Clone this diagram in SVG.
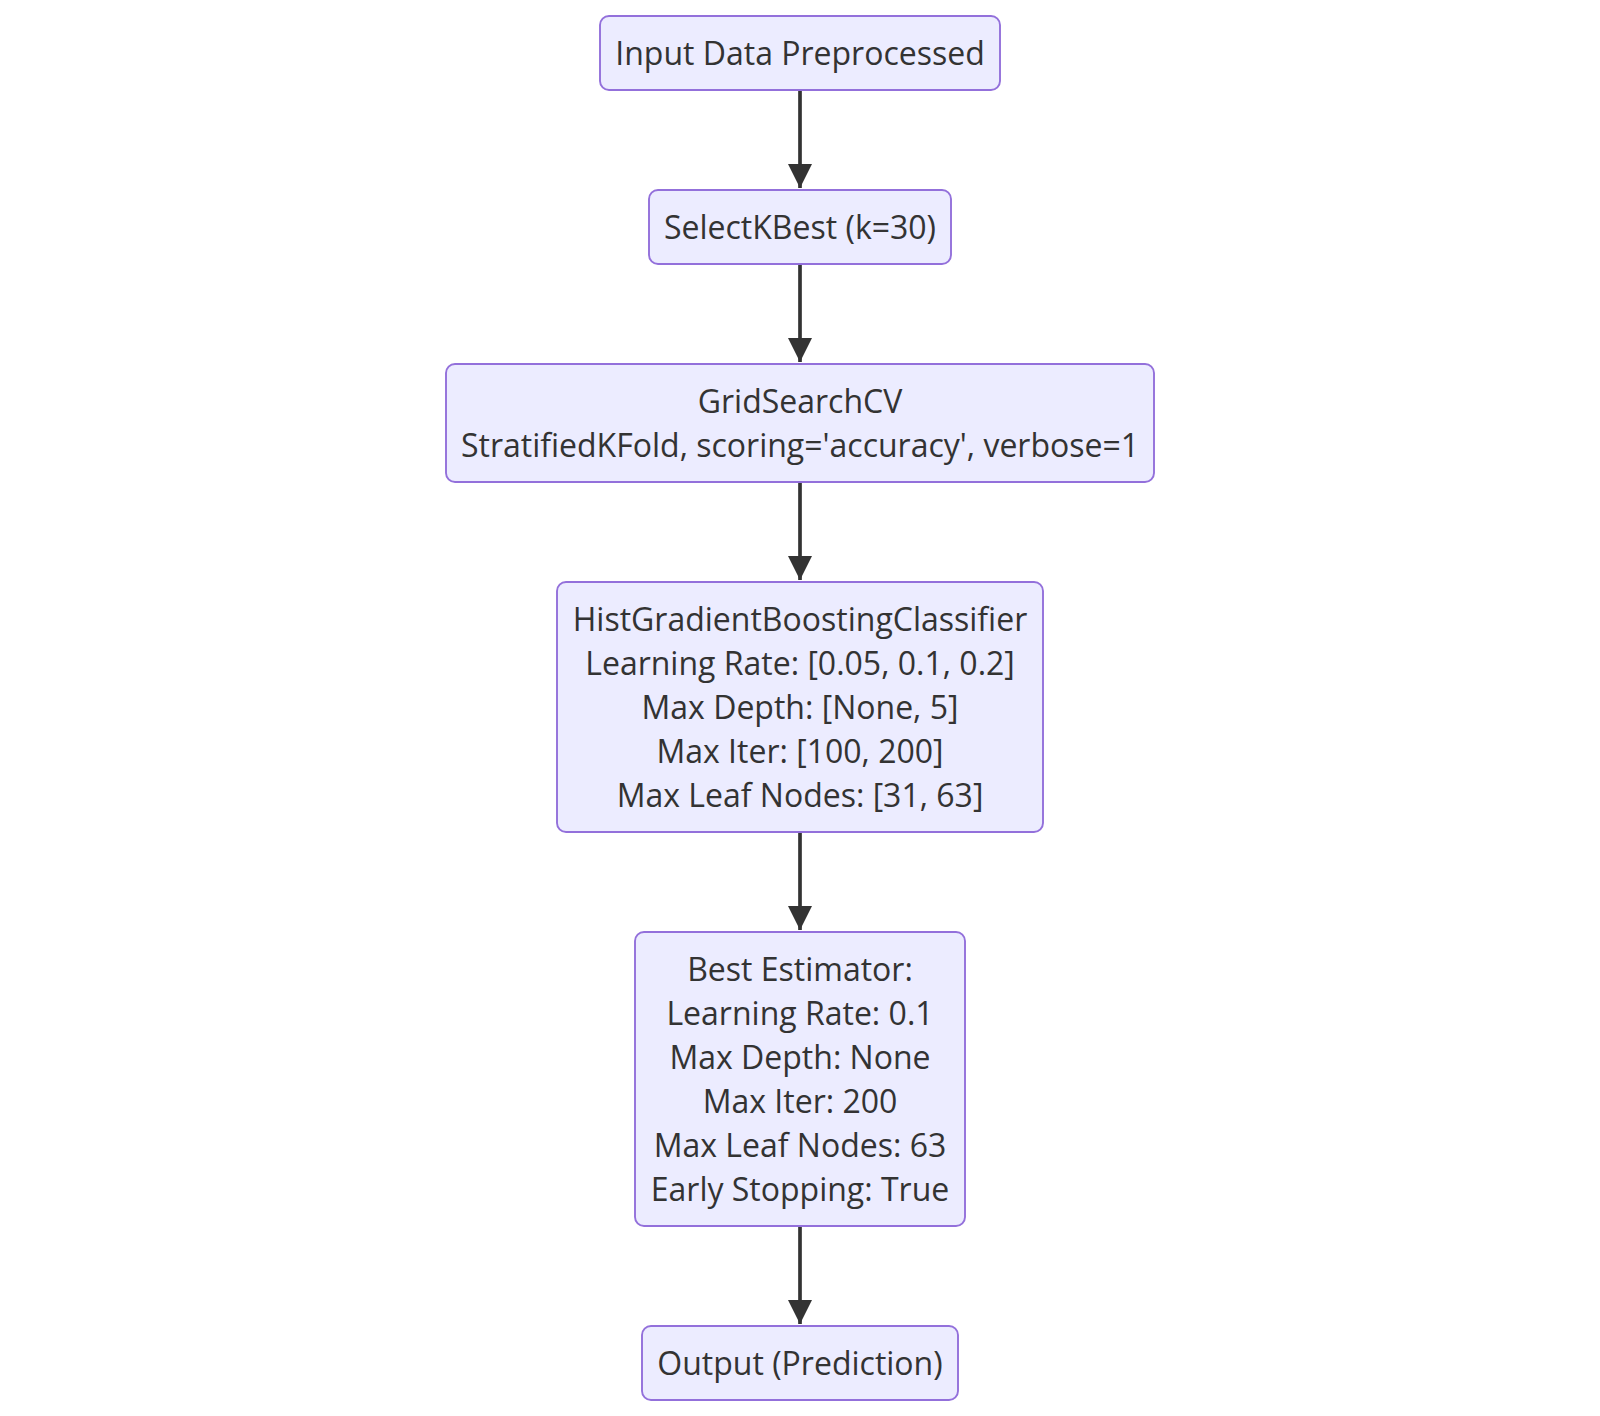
<svg xmlns="http://www.w3.org/2000/svg" width="1600" height="1416" viewBox="0 0 1600 1416">
<defs>
<style>
.node rect{fill:#ECECFF;stroke:#9370DB;stroke-width:1.9}
.node text{font-family:"Open Sans","Noto Sans",sans-serif;font-size:32px;fill:#333;text-anchor:middle}
.edge{stroke:#333;stroke-width:3.7;fill:none}
</style>
<marker id="arrow" viewBox="0 0 10 10" refX="10" refY="5" markerUnits="userSpaceOnUse" markerWidth="24" markerHeight="24" orient="auto">
<path d="M0,0 L10,5 L0,10 Z" fill="#333"/>
</marker>
</defs>
<rect width="1600" height="1416" fill="#fff"/>
<g id="connectors">
<path class="edge" d="M800,90 L800,188" marker-end="url(#arrow)"/>
<path class="edge" d="M800,264 L800,362" marker-end="url(#arrow)"/>
<path class="edge" d="M800,482 L800,580" marker-end="url(#arrow)"/>
<path class="edge" d="M800,832 L800,930" marker-end="url(#arrow)"/>
<path class="edge" d="M800,1226 L800,1324" marker-end="url(#arrow)"/>
</g>
<g id="input" class="node">
<rect x="600" y="16" width="400" height="74" rx="9"/>
<text x="800" y="64.5">Input Data Preprocessed</text>
</g>
<g id="selectk" class="node">
<rect x="649" y="190" width="302" height="74" rx="9"/>
<text x="800" y="238.5">SelectKBest (k=30)</text>
</g>
<g id="gridsearch" class="node">
<rect x="446" y="364" width="708" height="118" rx="9"/>
<text x="800" y="412.5">GridSearchCV</text>
<text x="800" y="456.5">StratifiedKFold, scoring='accuracy', verbose=1</text>
</g>
<g id="hgb" class="node">
<rect x="557" y="582" width="486" height="250" rx="9"/>
<text x="800" y="631">HistGradientBoostingClassifier</text>
<text x="800" y="675">Learning Rate: [0.05, 0.1, 0.2]</text>
<text x="800" y="719">Max Depth: [None, 5]</text>
<text x="800" y="763">Max Iter: [100, 200]</text>
<text x="800" y="807">Max Leaf Nodes: [31, 63]</text>
</g>
<g id="best" class="node">
<rect x="635" y="932" width="330" height="294" rx="9"/>
<text x="800" y="981">Best Estimator:</text>
<text x="800" y="1025">Learning Rate: 0.1</text>
<text x="800" y="1069">Max Depth: None</text>
<text x="800" y="1113">Max Iter: 200</text>
<text x="800" y="1157">Max Leaf Nodes: 63</text>
<text x="800" y="1201">Early Stopping: True</text>
</g>
<g id="output" class="node">
<rect x="642" y="1326" width="316" height="74" rx="9"/>
<text x="800" y="1374.5">Output (Prediction)</text>
</g>
</svg>
